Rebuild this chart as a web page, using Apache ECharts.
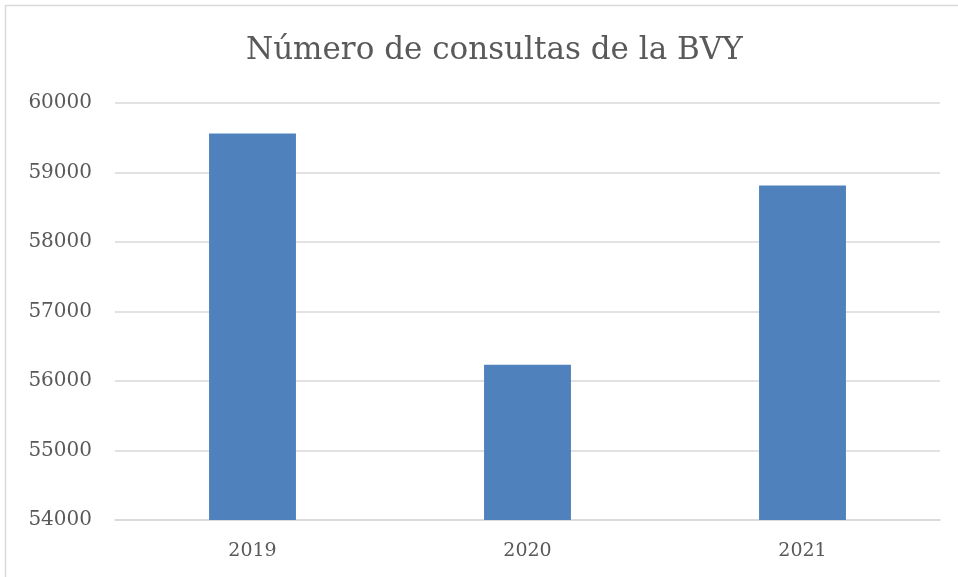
<!DOCTYPE html>
<html>
<head>
<meta charset="utf-8">
<title>Número de consultas de la BVY</title>
<style>
  html, body { margin: 0; padding: 0; background: #fff; }
  #chart { width: 958px; height: 577px; }
</style>
</head>
<body>
<div id="chart"></div>
<script src="https://cdn.jsdelivr.net/npm/echarts@6/dist/echarts.min.js"></script>
<script>
// datos
var years = ['2019', '2020', '2021'];
var consultas = [59560, 56235, 58812];
var yTicks = [54000, 55000, 56000, 57000, 58000, 59000, 60000];

var fontSerif = '"DejaVu Serif", "Liberation Serif", serif';
var gris = '#595959';

var chart = echarts.init(document.getElementById('chart'), null, { renderer: 'canvas' });
chart.setOption({
  animation: false,
  backgroundColor: '#fff',
  title: {
    text: 'Número de consultas de la BVY',
    left: 241,
    top: 30,
    textStyle: { fontFamily: fontSerif, fontSize: 31, fontWeight: 'normal', color: gris }
  },
  graphic: [{
    type: 'rect',
    shape: { x: 5.5, y: 5.5, width: 1000, height: 1000 },
    style: { fill: 'none', stroke: '#d9d9d9', lineWidth: 1.5 },
    silent: true
  }],
  grid: { left: 115, right: 18, top: 103, bottom: 57 },
  xAxis: {
    type: 'category',
    data: years,
    axisTick: { show: false },
    axisLine: { lineStyle: { color: '#d9d9d9', width: 1.5 } },
    axisLabel: { margin: 22, fontFamily: fontSerif, fontSize: 19, color: gris }
  },
  yAxis: {
    type: 'value',
    min: yTicks[0],
    max: yTicks[yTicks.length - 1],
    interval: 1000,
    axisLine: { show: false },
    axisTick: { show: false },
    splitLine: { lineStyle: { color: '#d9d9d9', width: 1.5 } },
    axisLabel: {
      margin: 23, fontFamily: fontSerif, fontSize: 20, color: gris,
      formatter: function (v) { return String(v); }
    }
  },
  series: [{
    type: 'bar',
    data: consultas,
    barWidth: '31.6%',
    itemStyle: { color: '#4f81bd' }
  }]
});
</script>
</body>
</html>
